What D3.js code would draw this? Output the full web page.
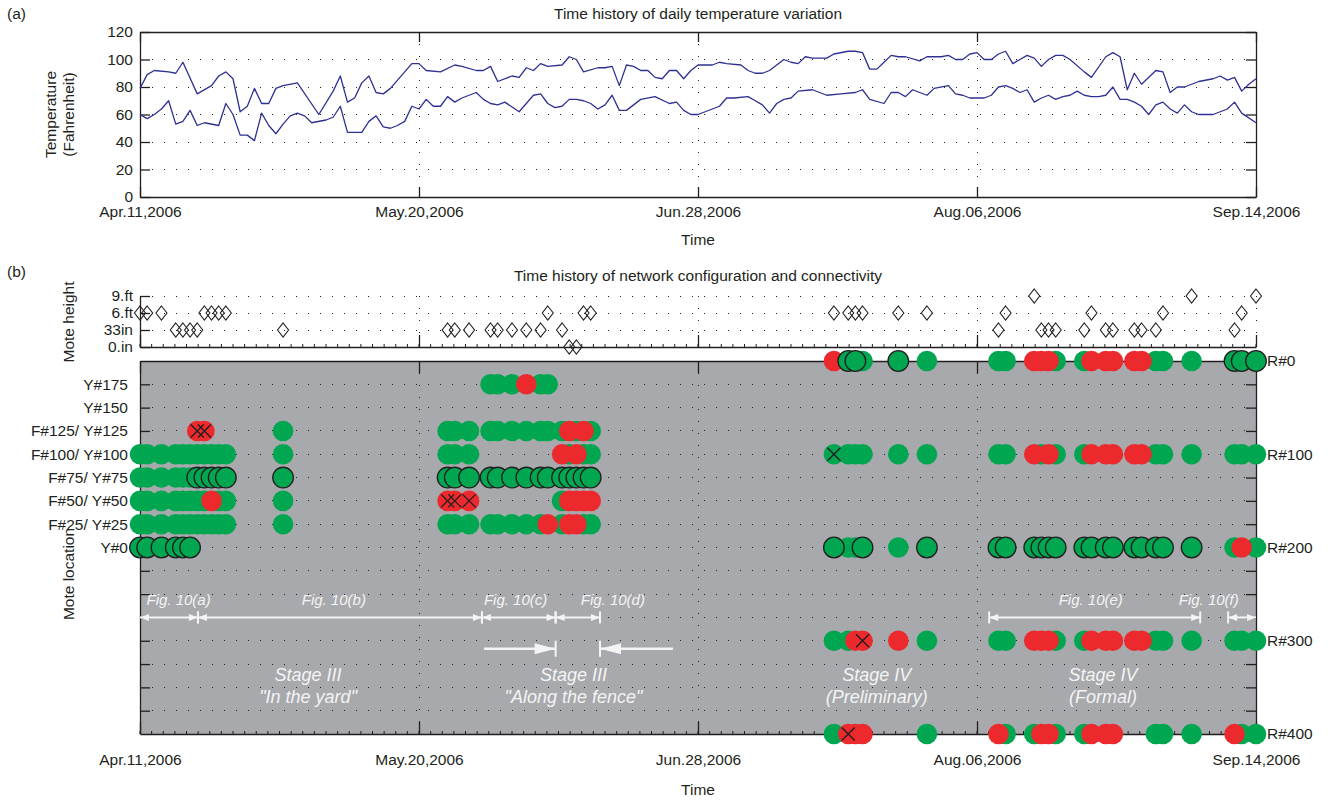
<!DOCTYPE html>
<html>
<head>
<meta charset="utf-8">
<script src="https://cdn.jsdelivr.net/npm/d3@7"></script>
<style>
  body { margin: 0; background: #fff; }
  svg { display: block; font-family: "Liberation Sans", Arial, Helvetica, sans-serif; }
  .axis path, .axis line { stroke: #231f20; stroke-width: 1.3; fill: none; }
  .axis text { font-size: 15.5px; fill: #231f20; font-family: "Liberation Sans", Arial, sans-serif; }
  .grid { stroke: #231f20; stroke-width: 1; stroke-dasharray: 1 11; shape-rendering: crispEdges; }
  .label { font-size: 15.5px; fill: #231f20; }
  .note { fill: #f4f4f4; font-style: italic; }
</style>
</head>
<body>
<svg id="chart" width="1330" height="801"></svg>
<script>
// ---------- time axis ----------
const dateTicks = ['2006-04-11', '2006-05-20', '2006-06-28', '2006-08-06', '2006-09-14'];

// ---------- (a) daily temperature, [day since Apr.11, deg F] ----------
const tempTicks = [0, 20, 40, 60, 80, 100, 120];
const highTemp = [
  [0,79],[1,89],[2,92],[4,91],[5,90],[6,98],[8,75],[10,81],[11,88],[12,91],[13,86],[14,62],[15,66],
  [16,79],[17,68],[18,68],[19,79],[20,81],[22,83],[25,60],[27,77],[28,88],[29,69],[30,72],[31,83],
  [32,88],[33,76],[34,75],[35,79],[38,97],[39,97],[40,92],[42,91],[44,96],[45,95],[47,92],[48,92],
  [49,95],[50,84],[52,88],[53,87],[54,94],[55,92],[56,97],[57,95],[59,96],[60,102],[61,100],[62,91],
  [64,94],[65,94],[66,95],[67,81],[68,96],[69,95],[70,92],[71,92],[72,87],[73,86],[74,92],[75,92],
  [76,86],[77,92],[78,96],[80,96],[81,98],[82,97],[84,96],[85,92],[86,90],[87,90],[88,92],[90,100],
  [91,98],[92,97],[93,102],[94,101],[96,101],[97,104],[99,106],[100,106],[101,105],[102,93],[103,93],
  [104,98],[105,103],[106,102],[107,102],[109,99],[110,102],[112,102],[113,103],[114,100],[115,100],
  [116,104],[117,105],[118,100],[119,100],[120,104],[121,106],[122,97],[123,100],[124,103],[125,101],
  [126,95],[127,100],[128,103],[129,103],[130,100],[132,91],[133,87],[135,102],[136,105],[137,102],
  [138,78],[139,90],[140,82],[142,92],[143,91],[144,76],[145,80],[146,80],[147,82],[148,84],[150,86],
  [151,88],[152,85],[153,87],[154,77],[155,82],[156,86]
];
const lowTemp = [
  [0,60],[1,57],[2,60],[3,64],[4,70],[5,53],[6,55],[7,63],[8,52],[9,54],[11,52],[12,68],[13,60],
  [14,45],[15,45],[16,41],[17,61],[18,52],[19,46],[20,53],[21,59],[22,61],[23,59],[24,54],[26,56],
  [27,58],[28,66],[29,47],[31,47],[32,55],[33,59],[34,51],[35,50],[36,52],[37,55],[38,66],[39,64],
  [40,71],[41,66],[42,66],[43,73],[44,69],[45,72],[47,76],[48,71],[49,68],[50,67],[51,69],[53,62],
  [55,74],[56,75],[57,68],[58,65],[59,66],[60,71],[61,71],[62,70],[63,68],[64,64],[65,67],[66,74],
  [67,63],[68,63],[70,71],[72,73],[74,68],[75,69],[76,63],[77,60],[78,60],[81,66],[82,72],[83,72],
  [85,73],[86,70],[87,67],[88,61],[89,68],[90,71],[91,72],[92,77],[94,78],[96,74],[98,75],[100,76],
  [101,78],[102,71],[104,68],[105,76],[106,76],[107,73],[108,78],[109,76],[110,74],[111,79],[113,81],
  [114,75],[115,74],[116,72],[117,72],[118,72],[119,74],[120,80],[121,81],[122,79],[123,76],[124,78],
  [125,69],[126,72],[127,74],[128,71],[129,73],[130,74],[131,77],[132,74],[133,73],[134,73],[135,74],
  [136,80],[137,71],[138,71],[139,69],[140,66],[141,60],[142,67],[143,69],[144,64],[145,61],[146,67],
  [147,62],[148,60],[150,60],[151,62],[152,64],[153,69],[154,61],[156,54]
];

// ---------- (b) mote height on each test day ----------
const heightLevels = ['0.in', '33in', '6.ft', '9.ft'];
const h9ft  = [125, 147, 156];
const h6ft  = [0, 1, 3, 9, 10, 11, 12, 57, 62, 63, 97, 99, 100, 101, 106, 110, 121, 133, 143, 154];
const h33in = [5, 6, 7, 8, 20, 43, 44, 46, 49, 50, 52, 54, 56, 59, 120, 126, 127, 128, 132, 135, 136, 139, 140, 142, 153];
const h0in  = [60, 61];

// ---------- (b) connectivity per mote location ----------
// g: connected, o: connected (multi-hop), r: lost, rx / gx: mote failure
const locTicks  = [0, 25, 50, 75, 100, 125, 150, 175];
const locLabels = ['Y#0', 'F#25/ Y#25', 'F#50/ Y#50', 'F#75/ Y#75', 'F#100/ Y#100', 'F#125/ Y#125', 'Y#150', 'Y#175'];
const relayTicks = [0, 100, 200, 300, 400];

const linkY175 = { g: [49, 50, 52, 56, 57], r: [54] };
const linkY125 = { g: [20, 43, 44, 46, 49, 50, 52, 54, 56, 57, 59, 61, 63], r: [60, 62], rx: [8, 9] };
const linkY100 = { g: [0, 1, 3, 5, 6, 7, 8, 9, 10, 11, 12, 20, 43, 44, 46, 60, 62, 63], r: [59, 61] };
const linkY75  = { g: [0, 1, 3, 5, 6, 7], o: [8, 9, 10, 11, 12, 20, 43, 44, 46, 49, 50, 52, 54, 56, 57, 59, 60, 61, 62, 63] };
const linkY50  = { g: [0, 1, 3, 5, 6, 7, 8, 9, 11, 12, 20, 59], r: [10, 60, 61, 62, 63], rx: [43, 44, 46] };
const linkY25  = { g: [0, 1, 3, 5, 6, 7, 8, 9, 10, 11, 12, 20, 43, 44, 46, 49, 50, 52, 54, 56, 59, 62, 63], r: [57, 60, 61] };
const linkY0   = { o: [0, 1, 3, 5, 6, 7] };

const linkR0   = { g: [101, 110, 120, 121, 128, 132, 142, 143, 147], r: [97, 125, 126, 127, 133, 135, 136, 139, 140], o: [99, 100, 106, 153, 154, 156] };
const linkR100 = { g: [99, 100, 101, 106, 110, 120, 121, 126, 128, 132, 142, 143, 147, 153, 154, 156], gx: [97], r: [125, 127, 133, 135, 136, 139, 140] };
const linkR200 = { g: [99, 100, 106, 153, 156], r: [154], o: [97, 101, 110, 120, 121, 125, 126, 127, 128, 132, 133, 135, 136, 139, 140, 142, 143, 147] };
const linkR300 = { g: [97, 99, 110, 120, 121, 128, 132, 142, 143, 147, 153, 154, 156], r: [100, 106, 125, 126, 127, 133, 135, 136, 139, 140], rx: [101] };
const linkR400 = { g: [97, 110, 121, 125, 128, 132, 142, 143, 147, 154, 156], r: [100, 101, 120, 126, 127, 133, 135, 136, 153], rx: [99] };

// ---------- annotations (days since Apr.11) ----------
const figSpans = [
  { label: 'Fig. 10(a)', from: 0,     to: 8.1,   at: 5.4 },
  { label: 'Fig. 10(b)', from: 8.1,   to: 47.8,  at: 27.1 },
  { label: 'Fig. 10(c)', from: 47.8,  to: 58.1,  at: 52.5 },
  { label: 'Fig. 10(d)', from: 58.1,  to: 64.3,  at: 66.1 },
  { label: 'Fig. 10(e)', from: 118.7, to: 148.2, at: 132.9 },
  { label: 'Fig. 10(f)', from: 152.1, to: 156,   at: 149.4 }
];
const fenceArrows = [
  { from: 48.1, to: 58.1, dir: 'right' },
  { from: 64.3, to: 74.5, dir: 'left' }
];
const stageLabels = [
  { lines: ['Stage III', '"In the yard"'], at: 23.5 },
  { lines: ['Stage III', '"Along the fence"'], at: 60.6 },
  { lines: ['Stage IV', '(Preliminary)'], at: 103 },
  { lines: ['Stage IV', '(Formal)'], at: 134.6 }
];

// ---------- drawing ----------
const INK = '#231f20', BLUE = '#2e3192', GREEN = '#00a650', RED = '#ec2a2e', GREY = '#a7a9ac';
const svg = d3.select('#chart');

const startMs = Date.parse(dateTicks[0] + 'T00:00:00Z');
const atDay = d => new Date(startMs + d * 864e5);
const tickDates = dateTicks.map(s => new Date(s + 'T00:00:00Z'));
const innerDates = tickDates.slice(1, -1);
const fmt = d3.utcFormat('%b.%d,%Y');

const x = d3.scaleUtc().domain([tickDates[0], tickDates[tickDates.length - 1]]).range([140, 1256]);
const xd = d => x(atDay(d));
const [X0, X1] = x.range();
const midX = (X0 + X1) / 2;

function hGrid(g, ys, xa, xb) {
  g.append('g').selectAll('line').data(ys).join('line').attr('class', 'grid')
    .attr('x1', xa).attr('x2', xb).attr('y1', d => d).attr('y2', d => d);
}
function vGrid(g, xs, ya, yb) {
  g.append('g').selectAll('line').data(xs).join('line').attr('class', 'grid')
    .attr('x1', d => d).attr('x2', d => d).attr('y1', ya).attr('y2', yb);
}
function minorTicks(g, y0) {
  const days = d3.range(0, 156.01, 39 / 24);
  g.append('g').selectAll('line').data(days).join('line')
    .attr('x1', d => xd(d)).attr('x2', d => xd(d)).attr('y1', y0).attr('y2', y0 - 3)
    .attr('stroke', INK).attr('stroke-width', 1);
}

// ===== (a) temperature =====
const yT = d3.scaleLinear().domain([0, 120]).range([197, 32]);
const gA = svg.append('g');
hGrid(gA, tempTicks.slice(1, -1).map(yT), X0, X1);
vGrid(gA, innerDates.map(x), yT(120), yT(0));

gA.append('g').attr('class', 'axis').attr('transform', `translate(0,${yT(0)})`)
  .call(d3.axisBottom(x).tickValues(tickDates).tickFormat(fmt).tickSize(-10).tickSizeOuter(0).tickPadding(9));
gA.append('g').attr('class', 'axis').attr('transform', `translate(0,${yT(120)})`)
  .call(d3.axisTop(x).tickValues(tickDates).tickFormat('').tickSize(-10).tickSizeOuter(0));
gA.append('g').attr('class', 'axis').attr('transform', `translate(${X0},0)`)
  .call(d3.axisLeft(yT).tickValues(tempTicks).tickSize(-10).tickSizeOuter(0).tickPadding(7));
gA.append('g').attr('class', 'axis').attr('transform', `translate(${X1},0)`)
  .call(d3.axisRight(yT).tickValues(tempTicks).tickFormat('').tickSize(-10).tickSizeOuter(0));

const tempLine = d3.line().x(d => xd(d[0])).y(d => yT(d[1]));
gA.selectAll('path.temp').data([highTemp, lowTemp]).join('path').attr('class', 'temp')
  .attr('d', tempLine).attr('fill', 'none').attr('stroke', BLUE).attr('stroke-width', 1.3)
  .attr('stroke-linejoin', 'round');

gA.append('text').attr('class', 'label').attr('x', 7).attr('y', 14).attr('dy', '0.35em').text('(a)');
gA.append('text').attr('class', 'label').attr('x', midX).attr('y', 14).attr('dy', '0.35em')
  .attr('text-anchor', 'middle').text('Time history of daily temperature variation');
gA.append('text').attr('class', 'label').attr('x', midX).attr('y', 240).attr('dy', '0.35em')
  .attr('text-anchor', 'middle').text('Time');
const tLab = gA.append('text').attr('class', 'label').attr('text-anchor', 'middle')
  .attr('transform', `translate(56,${(yT(0) + yT(120)) / 2}) rotate(-90)`);
tLab.append('tspan').attr('x', 0).attr('dy', '0em').text('Temperature');
tLab.append('tspan').attr('x', 0).attr('dy', '1.15em').text('(Fahrenheit)');

// ===== (b) mote height =====
const yH = d3.scalePoint().domain(heightLevels).range([347, 296]);
const gH = svg.append('g');
hGrid(gH, heightLevels.slice(1).map(yH), X0, X1);
vGrid(gH, innerDates.concat([tickDates[tickDates.length - 1]]).map(x), yH('9.ft'), yH('0.in'));
minorTicks(gH, yH('0.in'));
gH.append('g').attr('class', 'axis').attr('transform', `translate(0,${yH('0.in')})`)
  .call(d3.axisBottom(x).tickValues(tickDates).tickFormat('').tickSize(-12).tickSizeOuter(0));
gH.append('g').attr('class', 'axis').attr('transform', `translate(${X0},0)`)
  .call(d3.axisLeft(yH).tickSize(-10).tickSizeOuter(0).tickPadding(7));

const diamond = 'M0,-7L5.5,0L0,7L-5.5,0Z';
const heightMarks = [
  ...h9ft.map(d => ({ day: d, lvl: '9.ft' })),
  ...h6ft.map(d => ({ day: d, lvl: '6.ft' })),
  ...h33in.map(d => ({ day: d, lvl: '33in' })),
  ...h0in.map(d => ({ day: d, lvl: '0.in' }))
];
gH.append('g').selectAll('path').data(heightMarks).join('path')
  .attr('d', diamond).attr('transform', d => `translate(${xd(d.day)},${yH(d.lvl)})`)
  .attr('fill', 'none').attr('stroke', INK).attr('stroke-width', 1.1);

svg.append('text').attr('class', 'label').attr('x', 7).attr('y', 272).attr('dy', '0.35em').text('(b)');
svg.append('text').attr('class', 'label').attr('x', midX).attr('y', 276).attr('dy', '0.35em')
  .attr('text-anchor', 'middle').text('Time history of network configuration and connectivity');
svg.append('text').attr('class', 'label').attr('text-anchor', 'middle')
  .attr('transform', `translate(69,322) rotate(-90)`).attr('dy', '0.35em').text('Mote height');

// ===== (b) mote location / connectivity =====
const yR = d3.scaleLinear().domain([0, 400]).range([361, 734]);
const yL = d3.scaleLinear().domain([0, 200]).range([yR(200), yR(0)]);
const gM = svg.append('g');
gM.append('rect').attr('x', X0).attr('y', yR(0)).attr('width', X1 - X0).attr('height', yR(400) - yR(0)).attr('fill', GREY);
const rowSteps = d3.range(25, 400, 25);
hGrid(gM, rowSteps.map(yR), X0, X1);
vGrid(gM, innerDates.map(x), yR(0), yR(400));
minorTicks(gM, yR(400));

gM.append('g').attr('class', 'axis').attr('transform', `translate(${X0},0)`)
  .call(d3.axisLeft(yR).tickValues(rowSteps).tickFormat('').tickSize(-10).tickSizeOuter(0));
const leftLab = gM.append('g').attr('class', 'axis').attr('transform', `translate(${X0},0)`)
  .call(d3.axisLeft(yL).tickValues(locTicks).tickFormat((d, i) => locLabels[i]).tickSize(0).tickPadding(12));
leftLab.select('.domain').remove();
gM.append('g').attr('class', 'axis').attr('transform', `translate(${X1},0)`)
  .call(d3.axisRight(yR).tickValues(d3.range(0, 401, 25)).tickSize(-10).tickSizeOuter(0).tickPadding(11)
    .tickFormat(d => relayTicks.includes(d) ? 'R#' + d : ''));
gM.append('g').attr('class', 'axis').attr('transform', `translate(0,${yR(0)})`)
  .call(d3.axisTop(x).tickValues(tickDates).tickFormat('').tickSize(-12).tickSizeOuter(0));
gM.append('g').attr('class', 'axis').attr('transform', `translate(0,${yR(400)})`)
  .call(d3.axisBottom(x).tickValues(tickDates).tickFormat(fmt).tickSize(-12).tickSizeOuter(0).tickPadding(20));

svg.append('text').attr('class', 'label').attr('x', midX).attr('y', 790).attr('dy', '0.35em')
  .attr('text-anchor', 'middle').text('Time');
svg.append('text').attr('class', 'label').attr('text-anchor', 'middle')
  .attr('transform', `translate(69,574) rotate(-90)`).attr('dy', '0.35em').text('Mote location');

// connectivity markers
const linkRows = [
  { y: yL(175), links: linkY175 }, { y: yL(125), links: linkY125 }, { y: yL(100), links: linkY100 },
  { y: yL(75), links: linkY75 }, { y: yL(50), links: linkY50 }, { y: yL(25), links: linkY25 },
  { y: yL(0), links: linkY0 },
  { y: yR(0), links: linkR0 }, { y: yR(100), links: linkR100 }, { y: yR(200), links: linkR200 },
  { y: yR(300), links: linkR300 }, { y: yR(400), links: linkR400 }
];
const drawOrder = ['g', 'gx', 'r', 'rx', 'o'];
const fillOf = { g: GREEN, gx: GREEN, o: GREEN, r: RED, rx: RED };
const marks = [];
drawOrder.forEach(s => linkRows.forEach(row => (row.links[s] || []).forEach(day => marks.push({ day, y: row.y, s }))));

const gC = svg.append('g');
gC.selectAll('circle').data(marks).join('circle')
  .attr('cx', d => xd(d.day)).attr('cy', d => d.y).attr('r', 10.3)
  .attr('fill', d => fillOf[d.s])
  .attr('stroke', d => d.s === 'o' ? INK : 'none').attr('stroke-width', 1.3);
const crosses = marks.filter(d => d.s === 'gx' || d.s === 'rx');
gC.selectAll('path.cross').data(crosses).join('path').attr('class', 'cross')
  .attr('d', 'M-6.5,-6.5L6.5,6.5M-6.5,6.5L6.5,-6.5')
  .attr('transform', d => `translate(${xd(d.day)},${d.y})`)
  .attr('stroke', INK).attr('stroke-width', 1.4).attr('fill', 'none');

// annotations
const gN = svg.append('g');
const spanY = yR(275), spanTextY = yR(275) - 18;
const atEdge = d => d <= 0 || d >= 156;
figSpans.forEach(s => {
  const a = xd(s.from), b = xd(s.to);
  gN.append('line').attr('x1', a).attr('x2', b).attr('y1', spanY).attr('y2', spanY)
    .attr('stroke', '#f4f4f4').attr('stroke-width', 2);
  gN.append('path').attr('fill', '#f4f4f4')
    .attr('d', `M${a},${spanY}l9,-3.5v7Z M${b},${spanY}l-9,-3.5v7Z`);
  [s.from, s.to].filter(d => !atEdge(d)).forEach(d => {
    gN.append('line').attr('x1', xd(d)).attr('x2', xd(d)).attr('y1', spanY - 6).attr('y2', spanY + 6)
      .attr('stroke', '#f4f4f4').attr('stroke-width', 2);
  });
  gN.append('text').attr('class', 'note').attr('x', xd(s.at)).attr('y', spanTextY).attr('dy', '0.35em')
    .attr('text-anchor', 'middle').attr('font-size', 15).text(s.label);
});

const dirY = yR(300) + 8;
fenceArrows.forEach(f => {
  const a = xd(f.from), b = xd(f.to);
  const tip = f.dir === 'right' ? b : a;
  const sgn = f.dir === 'right' ? -1 : 1;
  gN.append('line').attr('x1', a).attr('x2', b).attr('y1', dirY).attr('y2', dirY)
    .attr('stroke', '#f4f4f4').attr('stroke-width', 2.5);
  gN.append('path').attr('fill', '#f4f4f4')
    .attr('d', `M${tip},${dirY}l${sgn * 21},-5.5v11Z`);
  gN.append('line').attr('x1', tip).attr('x2', tip).attr('y1', dirY - 8).attr('y2', dirY + 8)
    .attr('stroke', '#f4f4f4').attr('stroke-width', 2);
});

stageLabels.forEach(s => {
  const t = gN.append('text').attr('class', 'note').attr('font-size', 18).attr('text-anchor', 'middle')
    .attr('x', xd(s.at)).attr('y', 675).attr('dy', '0.35em');
  t.append('tspan').attr('x', xd(s.at)).text(s.lines[0]);
  t.append('tspan').attr('x', xd(s.at)).attr('dy', '22').text(s.lines[1]);
});
</script>
</body>
</html>
